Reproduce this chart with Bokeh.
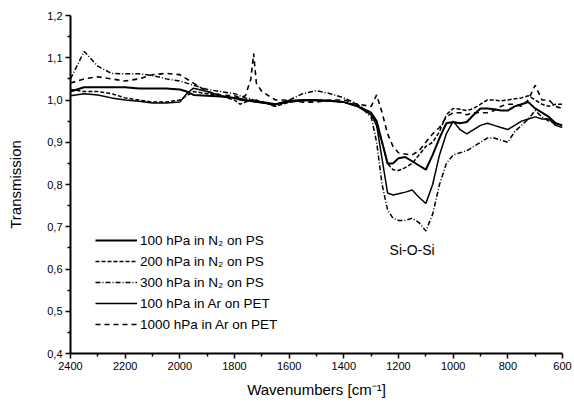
from bokeh.plotting import figure
from bokeh.models import Range1d, FixedTicker, Legend, LegendItem, Label, ColumnDataSource
from bokeh.embed import file_html
from bokeh.resources import INLINE

wavenumbers = [2400, 2350, 2300, 2250, 2200, 2150, 2100, 2050, 2000,
               1975, 1950, 1900, 1850, 1800,
               1780, 1760, 1740, 1730, 1720, 1700,
               1650, 1600, 1550, 1500, 1450, 1400, 1350, 1300,
               1280, 1260, 1240, 1220, 1200,
               1175, 1150, 1125, 1100, 1075, 1050, 1025, 1000,
               975, 950, 925, 900, 875, 850, 825, 800,
               775, 750, 725, 700, 675, 650, 625, 600]

t_100_n2_ps = [1.020, 1.030, 1.030, 1.030, 1.030, 1.027, 1.027, 1.027, 1.025,
               1.020, 1.012, 1.010, 1.008, 1.005,
               1.003, 1.000, 0.998, 0.997, 0.996, 0.995,
               0.990, 0.998, 1.000, 1.000, 0.998, 0.995, 0.985, 0.970,
               0.950, 0.900, 0.850, 0.850, 0.862,
               0.865, 0.855, 0.845, 0.835, 0.870, 0.910, 0.945, 0.948,
               0.945, 0.948, 0.965, 0.980, 0.980, 0.978, 0.975, 0.975,
               0.985, 0.990, 0.995, 0.980, 0.970, 0.960, 0.945, 0.940]

t_200_n2_ps = [1.025, 1.020, 1.020, 1.015, 1.005, 1.000, 0.995, 0.995, 1.000,
               1.010, 1.020, 1.015, 1.010, 1.000,
               0.990, 0.995, 1.000, 1.000, 1.000, 0.995,
               0.985, 0.995, 1.000, 1.000, 0.998, 0.995, 0.988, 0.970,
               0.940, 0.900, 0.850, 0.835, 0.833,
               0.840, 0.850, 0.870, 0.890, 0.900, 0.925, 0.965, 0.980,
               0.978, 0.975, 0.980, 0.990, 1.000, 1.000, 0.998, 1.000,
               1.003, 1.005, 1.010, 1.000, 0.990, 0.985, 0.990, 0.990]

t_300_n2_ps = [1.050, 1.115, 1.080, 1.063, 1.062, 1.062, 1.058, 1.050, 1.045,
               1.040, 1.035, 1.025, 1.020, 1.015,
               1.010, 1.005, 1.003, 1.000, 0.998, 0.995,
               0.985, 1.000, 1.015, 1.022, 1.015, 1.005, 0.990, 0.960,
               0.900, 0.800, 0.740, 0.720, 0.715,
               0.715, 0.720, 0.710, 0.690, 0.730, 0.800, 0.850, 0.870,
               0.875, 0.880, 0.890, 0.900, 0.910, 0.910, 0.905, 0.900,
               0.925, 0.940, 0.955, 0.975, 0.960, 0.950, 0.945, 0.940]

t_100_ar_pet = [1.010, 1.015, 1.012, 1.005, 1.000, 0.997, 0.993, 0.993, 0.995,
                1.015, 1.028, 1.020, 1.010, 1.005,
                1.000, 0.998, 0.997, 0.996, 0.995, 0.993,
                0.990, 0.995, 0.998, 0.998, 0.997, 0.995, 0.985, 0.965,
                0.940, 0.860, 0.780, 0.775, 0.778,
                0.782, 0.787, 0.770, 0.755, 0.800, 0.870, 0.920, 0.950,
                0.930, 0.920, 0.930, 0.940, 0.945, 0.940, 0.935, 0.930,
                0.940, 0.950, 0.955, 0.960, 0.955, 0.955, 0.940, 0.935]

t_1000_ar_pet = [1.040, 1.050, 1.055, 1.050, 1.045, 1.050, 1.060, 1.063, 1.060,
                 1.050, 1.040, 1.020, 1.012, 1.010,
                 1.005, 1.010, 1.050, 1.110, 1.040, 1.020,
                 1.000, 1.000, 0.995, 0.995, 1.000, 1.000, 0.990, 0.985,
                 1.012, 0.970, 0.920, 0.890, 0.875,
                 0.872, 0.870, 0.880, 0.900, 0.920, 0.935, 0.960, 0.970,
                 0.970, 0.965, 0.970, 0.970, 0.970, 0.975, 0.985, 0.990,
                 0.990, 0.985, 1.000, 1.035, 1.000, 1.000, 0.985, 0.980]

series_labels = ["100 hPa in N\u2082 on PS", "200 hPa in N\u2082 on PS",
                 "300 hPa in N\u2082 on PS", "100 hPa in Ar on PET",
                 "1000 hPa in Ar on PET"]
series_values = [t_100_n2_ps, t_200_n2_ps, t_300_n2_ps, t_100_ar_pet, t_1000_ar_pet]
series_dash = ["solid", "4 2", "5 2 1 2", "solid", "5 4"]
series_width = [2.0, 1.5, 1.5, 1.5, 1.6]

x_ticks = [2400, 2200, 2000, 1800, 1600, 1400, 1200, 1000, 800, 600]
x_minor = [2300, 2100, 1900, 1700, 1500, 1300, 1100, 900, 700]
y_ticks = [0.4, 0.5, 0.6, 0.7, 0.8, 0.9, 1.0, 1.1, 1.2]
y_tick_labels = ["0,4", "0,5", "0,6", "0,7", "0,8", "0,9", "1,0", "1,1", "1,2"]
y_minor = [0.45, 0.55, 0.65, 0.75, 0.85, 0.95, 1.05, 1.15]

annotation_text = "Si-O-Si"
annotation_x = 1150
annotation_y = 0.645

FONT = "Liberation Sans"

p = figure(width=574, height=409, output_backend="svg", toolbar_location=None,
           x_range=Range1d(2400, 600), y_range=Range1d(0.4, 1.2),
           min_border_left=70, min_border_right=12, min_border_top=15,
           min_border_bottom=56, background_fill_color="white",
           border_fill_color="white")
p.outline_line_color = None
p.xgrid.visible = False
p.ygrid.visible = False

items = []
for lab, vals, dash, lw in zip(series_labels, series_values, series_dash, series_width):
    src = ColumnDataSource(dict(w=wavenumbers, t=vals))
    r = p.line("w", "t", source=src, line_color="black", line_width=lw, line_dash=dash)
    items.append(LegendItem(label=lab, renderers=[r]))

legend = Legend(items=items, location=(25, 20), padding=0, margin=0, spacing=3,
                glyph_width=42, glyph_height=18, label_standoff=3,
                label_text_font=FONT, label_text_font_size="13.5px",
                label_text_color="black", border_line_alpha=0,
                background_fill_alpha=0)
p.add_layout(legend)

p.add_layout(Label(x=annotation_x, y=annotation_y, text=annotation_text,
                   text_align="center", text_baseline="middle",
                   text_font=FONT, text_font_size="14px", text_color="black"))

for ax in (p.xaxis[0], p.yaxis[0]):
    ax.axis_line_width = 2
    ax.axis_line_color = "black"
    ax.major_tick_line_width = 1.5
    ax.minor_tick_line_width = 1.5
    ax.major_tick_out = 5
    ax.major_tick_in = 0
    ax.minor_tick_out = 3
    ax.minor_tick_in = 0
    ax.major_label_text_font = FONT
    ax.major_label_text_font_size = "11px"
    ax.major_label_text_color = "black"
    ax.axis_label_text_font = FONT
    ax.axis_label_text_font_size = "15px"
    ax.axis_label_text_font_style = "normal"
    ax.axis_label_text_color = "black"
    ax.major_label_standoff = 3

p.xaxis[0].ticker = FixedTicker(ticks=x_ticks, minor_ticks=x_minor)
p.yaxis[0].ticker = FixedTicker(ticks=y_ticks, minor_ticks=y_minor)
p.yaxis[0].major_label_overrides = {v: s for v, s in zip(y_ticks, y_tick_labels)}
p.xaxis[0].axis_label = "Wavenumbers [cm\u207b\u00b9]"
p.yaxis[0].axis_label = "Transmission"
p.xaxis[0].axis_label_standoff = 8
p.yaxis[0].axis_label_standoff = 20

open("out.html", "w").write(file_html(p, INLINE))
